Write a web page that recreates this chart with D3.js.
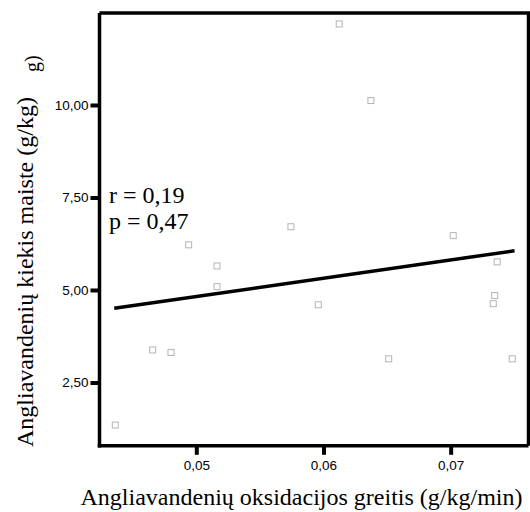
<!DOCTYPE html>
<html>
<head>
<meta charset="utf-8">
<script src="https://cdn.jsdelivr.net/npm/d3@7"></script>
<style>
  html, body { margin: 0; padding: 0; background: #fff; }
  svg { display: block; }
</style>
</head>
<body>
<svg id="chart" width="530" height="512"></svg>
<script>
// Carbohydrate oxidation rate (g/kg/min) vs. dietary carbohydrate (g/kg)
const oxidationRate = [0.04363, 0.04657, 0.04801, 0.0494, 0.05163, 0.05163, 0.05744, 0.05959,
                       0.06124, 0.06373, 0.06513, 0.0702, 0.07366, 0.07346, 0.07335, 0.07484];
const carbIntake    = [1.35, 3.38, 3.31, 6.22, 5.65, 5.09, 6.71, 4.60,
                       12.19, 10.12, 3.14, 6.47, 5.76, 4.85, 4.63, 3.14];

// Least-squares fit line, drawn between its two end points
const fitX = [0.04355, 0.07502];
const fitY = [4.505, 6.06];

const xTicks = [0.05, 0.06, 0.07];
const yTicks = [2.5, 5, 7.5, 10];
const statLines = ["r = 0,19", "p = 0,47"];

const xTitle = "Angliavandenių oksidacijos greitis (g/kg/min)";
const yTitle = "Angliavandenių kiekis maiste (g/kg)";
const yTitleTail = "g)";

const svg = d3.select("#chart");
const L = 99.5, R = 528.5, T = 13, B = 445.8;

const x = d3.scaleLinear().domain([0.04239, 0.07612]).range([L, R]);
const y = d3.scaleLinear().domain([0.789, 12.486]).range([B, T]);

const fmt = v => d3.format(".2f")(v).replace(".", ",");

// frame (top and right sides)
svg.append("path")
  .attr("d", `M${L},${T}H${R}V${B}`)
  .attr("fill", "none").attr("stroke", "#000").attr("stroke-width", 3.5);

// y axis
const yAxis = svg.append("g")
  .attr("transform", `translate(${L},0)`)
  .call(d3.axisLeft(y).tickValues(yTicks).tickFormat(fmt).tickSize(9).tickSizeOuter(0));
yAxis.select(".domain").attr("stroke-width", 3.5);
yAxis.selectAll(".tick line").attr("stroke-width", 4);
yAxis.selectAll(".tick text")
  .attr("x", -11)
  .attr("font-family", "'Liberation Sans', Arial, sans-serif")
  .attr("font-size", 13.5).attr("fill", "#000");

// x axis
const xAxis = svg.append("g")
  .attr("transform", `translate(0,${B})`)
  .call(d3.axisBottom(x).tickValues(xTicks).tickFormat(v => d3.format(".2f")(v).replace(".", ","))
        .tickSize(9).tickSizeOuter(0));
xAxis.select(".domain").attr("stroke-width", 3.5);
xAxis.selectAll(".tick line").attr("stroke-width", 4);
xAxis.selectAll(".tick text")
  .attr("y", 15)
  .attr("font-family", "'Liberation Sans', Arial, sans-serif")
  .attr("font-size", 13.5).attr("fill", "#000");

// domain paths extend to close the corners
yAxis.select(".domain").attr("d", `M0,${T}V${B + 1.75}`);
xAxis.select(".domain").attr("d", `M${L - 1.75},0H${R}`);

// scatter points: small hollow squares
const s = 6;
svg.append("g").selectAll("rect")
  .data(oxidationRate.map((v, i) => [v, carbIntake[i]]))
  .join("rect")
  .attr("x", d => x(d[0]) - s / 2)
  .attr("y", d => y(d[1]) - s / 2)
  .attr("width", s).attr("height", s)
  .attr("fill", "none").attr("stroke", "#b4b4b4").attr("stroke-width", 1);

// fit line
svg.append("path")
  .datum(fitX.map((v, i) => [v, fitY[i]]))
  .attr("d", d3.line().x(d => x(d[0])).y(d => y(d[1])))
  .attr("fill", "none").attr("stroke", "#000").attr("stroke-width", 3.5);

// statistics
svg.append("g").selectAll("text")
  .data(statLines)
  .join("text")
  .attr("x", 109).attr("y", (d, i) => 203 + i * 26)
  .attr("font-family", "'Liberation Serif', 'Times New Roman', serif")
  .attr("font-size", 24).attr("fill", "#000")
  .text(d => d);

// axis titles
svg.append("text")
  .attr("x", (81 + 522) / 2).attr("y", 505)
  .attr("text-anchor", "middle")
  .attr("font-family", "'Liberation Serif', 'Times New Roman', serif")
  .attr("font-size", 24).attr("fill", "#000")
  .text(xTitle);

svg.append("text")
  .attr("transform", "translate(33,447) rotate(-90)")
  .attr("text-anchor", "start")
  .attr("font-family", "'Liberation Serif', 'Times New Roman', serif")
  .attr("font-size", 24).attr("fill", "#000")
  .text(yTitle);

svg.append("text")
  .attr("transform", "translate(39,72) rotate(-90)")
  .attr("text-anchor", "start")
  .attr("font-family", "'Liberation Serif', 'Times New Roman', serif")
  .attr("font-size", 20).attr("fill", "#000")
  .text(yTitleTail);
</script>
</body>
</html>
